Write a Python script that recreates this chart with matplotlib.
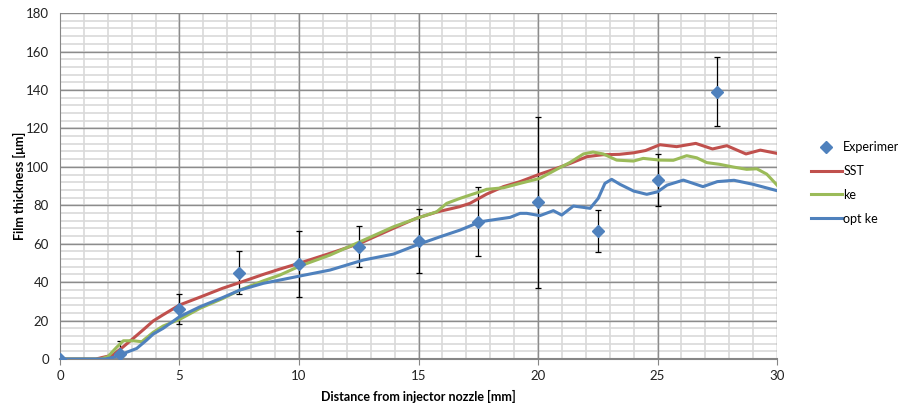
import matplotlib.pyplot as plt
from matplotlib.ticker import MultipleLocator
import numpy as np

plt.rcParams['font.family'] = ['Lato', 'DejaVu Sans']

# experimental points with error bars
exp_x = [0, 2.5, 5, 7.5, 10, 12.5, 15, 17.5, 20, 22.5, 25, 27.5]
exp_y = [0, 2.5, 26, 45, 49.5, 58.5, 61.5, 71.5, 81.5, 66.5, 93, 139]
exp_err = [0, 7, 8, 11, 17, 10.5, 16.5, 18, 44.5, 11, 13.5, 18]

# SST
sst_x = [0, 1.5, 1.8, 2.2, 2.65, 3.07, 3.5, 3.9, 4.3, 5.0, 5.9, 6.8, 7.5, 8.5, 9.2, 10.0, 11.3, 12.55,
         13.95, 14.9, 15.8, 16.7, 17.15, 17.85, 18.55, 19.25, 20.05, 20.5, 21.35, 22.05, 22.7, 23.4,
         24.0, 24.5, 25.1, 25.8, 26.6, 27.3, 27.9, 28.7, 29.3, 30.0]
sst_y = [0, 0, 0.9, 2, 6.4, 10.8, 15.4, 19.8, 22.9, 28.1, 32.4, 36.8, 39.7, 44, 46.8, 49.8, 55, 60.2,
         68, 73.2, 76.6, 79.2, 81, 85.8, 89.7, 92.3, 96.1, 98, 101.8, 105.3, 106.3, 106.5,
         107.3, 108.5, 111.5, 110.5, 112.2, 109.3, 111, 106.7, 108.7, 107]

# ke
ke_x = [0, 1.7, 2.0, 2.37, 2.65, 3.07, 3.42, 3.9, 4.32, 5.0, 5.86, 6.83, 7.53, 8.51, 9.2, 10.04, 11.3,
        12.55, 13.95, 14.92, 15.76, 16.18, 16.74, 17.15, 17.57, 17.85, 18.55, 19.25, 20.08, 20.78,
        21.34, 21.9, 22.3, 22.73, 23.29, 23.99, 24.4, 25.1, 25.66, 26.22, 26.64, 27.06, 27.6, 28.17,
        28.73, 29.15, 29.57, 30.0]
ke_y = [0, 0, 1.2, 6.1, 9.5, 9.5, 9.0, 13.9, 17.2, 20.6, 26.4, 31.6, 35.9, 40.7, 43.7, 48.4, 54.1,
        61, 68.8, 73.2, 76.6, 81, 83.6, 85.3, 87, 88.3, 89.1, 91.4, 94, 98.7,
        102.3, 106.7, 107.7, 106.7, 103.5, 103, 104.4, 103.5, 103.4, 105.8, 104.7, 102.2, 101.3, 99.9,
        98.7, 99, 96.2, 90.5]

# opt ke
opt_x = [0, 1.9, 2.23, 2.51, 2.79, 3.21, 3.63, 3.9, 4.32, 5.0, 5.86, 6.83, 7.53, 8.51, 9.2, 10.04, 11.3,
         12.69, 13.95, 14.92, 15.9, 16.74, 17.15, 17.57, 18.27, 18.83, 19.25, 19.53, 20.08, 20.64,
         20.99, 21.48, 21.9, 22.18, 22.52, 22.8, 23.08, 23.43, 24.0, 24.55, 25.0, 25.4, 26.08, 26.9,
         27.5, 28.2, 29.0, 30.0]
opt_y = [0, 0, 0.9, 2, 3.5, 5.5, 9.9, 13, 16, 22, 27.2, 32.1, 35.9, 39.4, 41.1, 43.2, 46.3,
         51.5, 54.6, 59.3, 63.6, 67.1, 69.2, 71.4, 72.7, 73.7, 75.8, 75.8, 74.6, 77.2,
         74.9, 79.6, 78.9, 78.4, 83.6, 91.4, 93.5, 90.9, 87.4, 85.7, 87, 90.5, 93.1, 89.7,
         92.3, 93, 90.9, 87.6]

fig = plt.figure(figsize=(8.98, 4.09), dpi=100)
ax = fig.add_axes([0.0668, 0.1222, 0.7985, 0.8458])

ax.set_xlim(0, 30)
ax.set_ylim(0, 180)
ax.xaxis.set_major_locator(MultipleLocator(5))
ax.yaxis.set_major_locator(MultipleLocator(20))

# gridlines: light minor ones underneath the darker major ones
ax.vlines(np.arange(1, 30), 0, 180, color='#d9d9d9', lw=1.2, zorder=0.5)
ax.hlines(np.arange(4, 180, 4), 0, 30, color='#d9d9d9', lw=1.2, zorder=0.5)
ax.vlines(np.arange(5, 31, 5), 0, 180, color='#8c8c8c', lw=1.0, zorder=0.6)
ax.hlines(np.arange(20, 181, 20), 0, 30, color='#8c8c8c', lw=1.0, zorder=0.6)

for s in ['top', 'right']:
    ax.spines[s].set_visible(False)
for s in ['bottom', 'left']:
    ax.spines[s].set_color('#868686')
ax.spines['bottom'].set_linewidth(1.5)
ax.tick_params(which='major', length=4, color='#868686', labelsize=9.5, labelcolor='#222222')
ax.tick_params(axis='y', length=0, pad=8)
ax.tick_params(axis='x', pad=4)

ax.errorbar(exp_x, exp_y, yerr=exp_err, fmt='none', ecolor='black', elinewidth=0.9, capsize=2.5,
            capthick=0.9, zorder=3)
ax.plot(exp_x, exp_y, linestyle='none', marker='D', markersize=6, color='#4F81BD', zorder=5,
        label='Experimental')
ax.plot(sst_x, sst_y, color='#C0504D', lw=2.2, label='SST', zorder=4)
ax.plot(ke_x, ke_y, color='#9BBB59', lw=2.2, label='ke', zorder=4)
ax.plot(opt_x, opt_y, color='#4F81BD', lw=2.2, label='opt ke', zorder=4)

ax.set_xlabel('Distance from injector nozzle [mm]', fontsize=9, fontweight='bold', labelpad=6)
ax.set_ylabel('Film thickness [\u03bcm]', fontsize=9, fontweight='bold', labelpad=0)

fig.legend(loc='center left', bbox_to_anchor=(0.896, 0.553), frameon=False, fontsize=9,
           handlelength=2.5, handletextpad=0.1, labelspacing=0.95, borderpad=0)

fig.savefig('out.png', dpi=100)
